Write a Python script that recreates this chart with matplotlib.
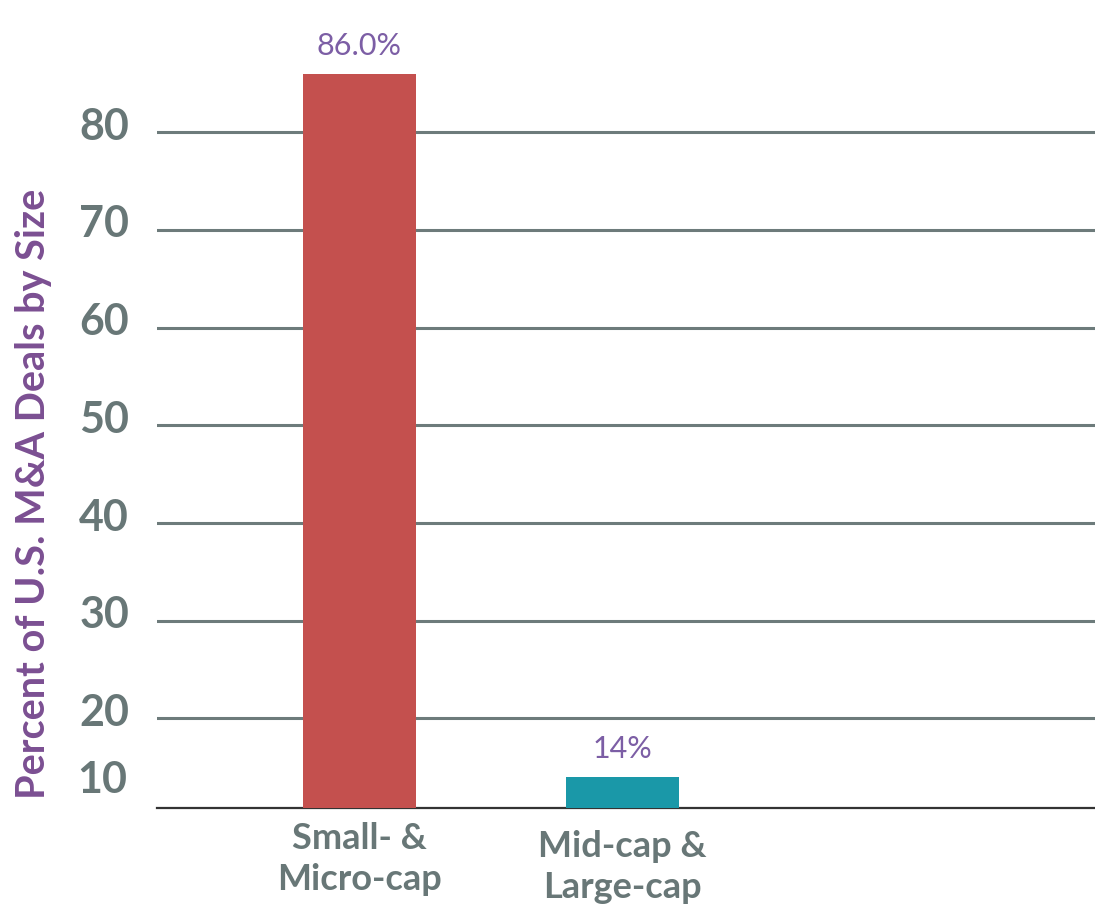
import matplotlib.pyplot as plt
from matplotlib.transforms import ScaledTranslation

# dati
categories = ["Small- &\nMicro-cap", "Mid-cap &\nLarge-cap"]
values = [86.0, 14.0]
value_labels = ["86.0%", "14%"]
bar_colors = ["#c4504e", "#1a98a8"]
grid_values = [20, 30, 40, 50, 60, 70, 80]
y_label = "Percent of U.S. M&A Deals by Size"

plt.rcParams['font.family'] = ['Lato', 'DejaVu Sans']

grey = "#687777"
purple_axis = "#7b4f92"
purple_text = "#7c5ea5"

fig = plt.figure(figsize=(10.95, 9.08), dpi=100)
ax = fig.add_axes([157/1095, 100/908, 1 - 157/1095, 808/908])

x = list(range(len(categories)))
bars = ax.bar(x, values, width=0.43, color=bar_colors, zorder=3)

ax.set_xlim(-0.77, 2.797)
ax.set_ylim(10.83, 93.53)

# griglia orizzontale
for v in grid_values:
    ax.axhline(v, color="#6d7b7b", lw=2.2, zorder=1)

# etichette asse y (spostate un po' sopra le linee)
ax.set_yticks(grid_values)
ax.set_yticklabels([str(v) for v in grid_values])
ax.tick_params(axis='y', length=0, pad=20, labelsize=31, labelcolor=grey)
for lab in ax.get_yticklabels():
    lab.set_fontweight('bold')
    lab.set_transform(lab.get_transform() + ScaledTranslation(0, 9/100, fig.dpi_scale_trans))
t10 = ax.text(-0.77, 10.83, "10", ha='right', va='bottom',
              fontsize=31, fontweight='bold', color=grey)
t10.set_transform(ax.transData + ScaledTranslation(-30/100, 8/100, fig.dpi_scale_trans))

ax.set_xticks(x)
ax.set_xticklabels(categories)
ax.tick_params(axis='x', length=0, pad=10, labelsize=26, labelcolor=grey)
for lab in ax.get_xticklabels():
    lab.set_fontweight('bold')
    lab.set_linespacing(1.3)
# la seconda etichetta nel riferimento e' un po' piu' in basso
xl = ax.get_xticklabels()[1]
xl.set_transform(xl.get_transform() + ScaledTranslation(0, -8/100, fig.dpi_scale_trans))

for s in ['top', 'right', 'left']:
    ax.spines[s].set_visible(False)
ax.spines['bottom'].set_color("#333333")
ax.spines['bottom'].set_linewidth(1.6)

# valori sopra le barre
for b, lab in zip(bars, value_labels):
    ax.annotate(lab, (b.get_x() + b.get_width()/2, b.get_height()),
                xytext=(0, 10), textcoords='offset points', ha='center', va='bottom',
                fontsize=22, color=purple_text, zorder=4)

fig.text(34/1095, 1 - 494/908, y_label, rotation=90, ha='center', va='center',
         fontsize=28.5, fontweight='bold', color=purple_axis)

fig.savefig("out.png", dpi=100)
